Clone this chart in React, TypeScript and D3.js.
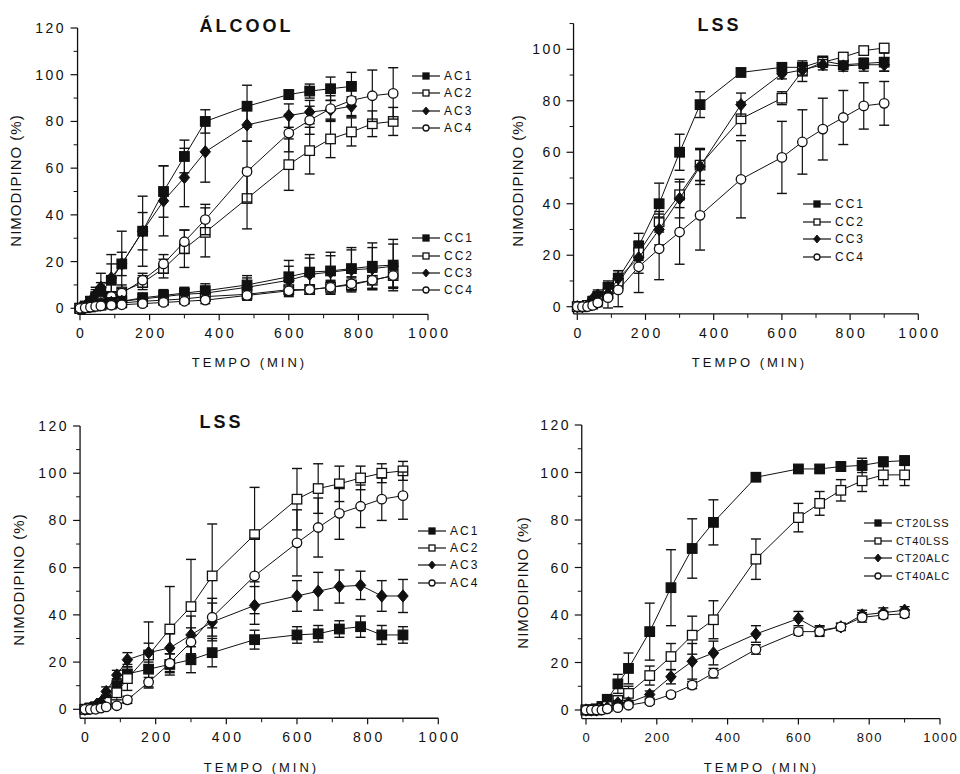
import React from 'react';
import * as d3 from 'd3';

// ---------- DATA ----------
const TIME = [0, 15, 30, 45, 60, 90, 120, 180, 240, 300, 360, 480, 600, 660, 720, 780, 840, 900];
const X_TICKS = [0, 200, 400, 600, 800, 1000];

// Panel 1 : ÁLCOOL
const ALC_AC1 = [0, 1, 3, 5, 7, 12, 19, 33, 50, 65, 80, 86.5, 91.5, 93, 94, 95, null, null];
const ALC_AC1_ERR = [0, 1, 2, 3, 4, 11, 14, 15, 11, 7, 5, 9, 2, 3, 5, 6, 0, 0];
const ALC_AC2 = [0, 0.5, 1, 2, 3, 5, 7, 11, 17, 25.5, 32.5, 47, 61.5, 67.5, 72.5, 75.5, 79, 80];
const ALC_AC2_ERR = [0, 0.5, 1, 1, 1.5, 2, 3, 3, 4, 8, 10.5, 13, 11, 10, 8, 6, 5.5, 6];
const ALC_AC3 = [0, 1, 3, 6, 9, 13, 19, 33, 46, 56, 67, 78.5, 82.5, 84, 85, 86.5, null, null];
const ALC_AC3_ERR = [0, 1, 2, 3, 6, 6, 5, 8, 15, 12.5, 13, 7, 5, 5, 4, 4, 0, 0];
const ALC_AC4 = [0, 0.5, 1, 2, 3, 5, 6.5, 12, 19, 28.5, 38, 58.5, 75, 80.5, 85.5, 89, 91, 92];
const ALC_AC4_ERR = [0, 0.5, 1, 1, 1.5, 2, 2, 3, 4, 5, 6.5, 13, 8, 6, 5.5, 7, 11, 11];
const ALC_CC1 = [0, 0.5, 1, 1.5, 2, 2.5, 3, 4.5, 5.5, 6.5, 7.5, 10, 13.5, 15.5, 16, 17, 18, 18.5];
const ALC_CC1_ERR = [0, 0.5, 1, 1, 1, 1.5, 1.5, 2, 2.5, 2.5, 3, 4, 7, 7.5, 8, 9, 10, 11];
const ALC_CC2 = [0, 0.3, 0.6, 1, 1.3, 1.8, 2.3, 3, 3.5, 4, 5, 6, 8, 8, 9, 10, 12, 14];
const ALC_CC2_ERR = [0, 0.3, 0.5, 0.5, 0.5, 1, 1, 1.5, 1.5, 1.5, 2, 2.5, 3, 2, 3, 3, 3.5, 5];
const ALC_CC3 = [0, 0.5, 1, 1.5, 2, 2.5, 3, 4, 5, 6, 6.5, 9, 12, 14.5, 15.5, 16.5, 17, 18];
const ALC_CC3_ERR = [0, 0.5, 1, 1, 1, 1, 1.5, 2, 2.5, 2.5, 3, 4, 6, 7, 7, 8.5, 9, 9.5];
const ALC_CC4 = [0, 0.2, 0.5, 0.8, 1, 1.3, 1.5, 2, 2.5, 3, 3.5, 5.5, 7.5, 8, 9, 10.5, 12, 14];
const ALC_CC4_ERR = [0, 0.2, 0.5, 0.5, 0.5, 0.5, 1, 1, 1, 1, 1.5, 2, 2, 2, 2.5, 3, 3.5, 5];

// Panel 2 : LSS (CC)
const LSS_CC1 = [0, 0, 0.5, 2, 4, 7.5, 11, 23.5, 40, 60, 78.5, 91, 93, 93, 95.5, 94, 94.5, 95];
const LSS_CC1_ERR = [0, 0.5, 0.5, 1, 1.5, 2.5, 3, 5, 8, 7, 5, 1, 1, 1.5, 1.5, 1.5, 2, 3.5];
const LSS_CC2 = [0, 0, 0.5, 1, 2.5, 5, 9, 21, 33, 43.5, 55, 73, 81, 91.5, 95, 97, 99.5, 100.5];
const LSS_CC2_ERR = [0, 0.3, 0.5, 0.5, 1, 1.5, 2, 3, 4, 5, 6, 6.5, 2.5, 4, 2, 1.5, 1, 1];
const LSS_CC3 = [0, 0, 0.5, 3, 4.5, 5, 11, 19, 30, 42, 54.5, 78.5, 90.5, 92, 94, 93.5, 94, 94];
const LSS_CC3_ERR = [0, 0.5, 0.5, 1, 2, 2, 3, 6, 6, 7.5, 7, 4.5, 2, 2, 2, 2, 2.5, 2.5];
const LSS_CC4 = [0, 0, 0, 0.5, 1.5, 3.5, 6.5, 15.5, 22.5, 29, 35.5, 49.5, 58, 64, 69, 73.5, 78, 79];
const LSS_CC4_ERR = [0, 0, 0.5, 1, 1.5, 4, 6.5, 10, 12, 12.5, 13.5, 15, 14, 12.5, 12, 10.5, 9, 8.5];

// Panel 3 : LSS (AC)
const LSS_AC1 = [0, 0.5, 1, 2, 4, 10, 15, 17, 19, 21, 24, 29.5, 31.5, 32, 34, 35, 31.5, 31.5];
const LSS_AC1_ERR = [0, 0.5, 1, 1, 2, 3, 4, 5, 4.5, 5.5, 6, 4, 3.5, 3.5, 3.5, 4.5, 4, 3.5];
const LSS_AC2 = [0, 0.5, 1, 1.5, 3, 7, 13, 23, 34, 43.5, 56.5, 74, 89, 93.5, 95.5, 98, 100, 101];
const LSS_AC2_ERR = [0, 0.5, 0.5, 1, 2, 3, 5, 14, 18, 20, 22, 20, 13, 10.5, 7.5, 5, 4, 4];
const LSS_AC3 = [0, 0.5, 1.5, 3, 7.5, 14.5, 21, 24, 26, 31.5, 37, 44, 48, 50, 52, 52.5, 48, 48];
const LSS_AC3_ERR = [0, 0.5, 1, 1.5, 2, 2, 3, 4, 6, 8, 8, 8, 6.5, 8, 7, 6, 6.5, 7];
const LSS_AC4 = [0, 0, 0, 0.5, 1, 1.5, 4, 11.5, 19.5, 28.5, 39, 56.5, 70.5, 77, 83, 86, 89, 90.5];
const LSS_AC4_ERR = [0, 0, 0.5, 0.5, 1, 1, 1.5, 2, 4, 6, 8, 16, 14, 12.5, 11, 9, 9, 10];

// Panel 4 : CT
const CT20LSS = [0, 0, 0.5, 1.5, 4.5, 11, 17.5, 33, 51.5, 68, 79, 98, 101.5, 101.5, 102.5, 103, 104.5, 105];
const CT20LSS_ERR = [0, 0.3, 0.5, 1, 1.5, 4, 6.5, 12, 16, 12.5, 9.5, 1.5, 1, 1.5, 2, 3, 2, 2];
const CT40LSS = [0, 0, 0, 0.5, 1.5, 4, 7, 14.5, 22.5, 31.5, 38, 63.5, 81, 87, 92.5, 96.5, 99, 99];
const CT40LSS_ERR = [0, 0, 0.3, 0.5, 1, 2, 3, 4, 5.5, 8, 8, 8.5, 6, 5, 4.5, 4.5, 4.5, 4.5];
const CT20ALC = [0, 0, 0, 0.5, 1, 3, 3, 6.5, 14, 20.5, 24, 32, 38.5, 33.5, 35, 40, 41, 42];
const CT20ALC_ERR = [0, 0, 0, 0.5, 0.5, 1, 1, 1.5, 3, 7.5, 5, 3.5, 3, 2, 1.5, 2, 2, 1.5];
const CT40ALC = [0, 0, 0, 0, 0.5, 1, 2, 3.5, 6.5, 10.5, 15.5, 25.5, 33, 33, 35, 39, 40, 40.5];
const CT40ALC_ERR = [0, 0, 0, 0, 0.3, 0.5, 1, 1, 1, 1.5, 2, 2, 1.5, 2, 1.5, 2, 1.5, 1.5];

const NAMES_AC = ['AC1', 'AC2', 'AC3', 'AC4'];
const NAMES_CC = ['CC1', 'CC2', 'CC3', 'CC4'];
const NAMES_CT = ['CT20LSS', 'CT40LSS', 'CT20ALC', 'CT40ALC'];

const Y_LABEL = 'NIMODIPINO (%)';
const X_LABEL = 'TEMPO (MIN)';

// ---------- LAYOUT ----------
const FONT = '"Liberation Sans", Arial, Helvetica, sans-serif';
const INK = '#111';

type Group = { names: string[]; values: (number | null)[][]; errs: number[][]; legend: { x0: number; ys: number[]; fs: number; ls: number } };
type Panel = {
  title?: string; titleX?: number; titleY?: number;
  xr: [number, number]; yr: [number, number]; yMaxDomain: number;
  xMin: number; yMin: number; yTop: number;
  yTickRight: number; xTickBaseline: number; xTickFs: number; xTickLs: number;
  yLab: [number, number]; xLab: [number, number];
  groups: Group[];
};

const PANELS: Panel[] = [
  {
    title: 'ÁLCOOL', titleX: 245, titleY: 32,
    xr: [80, 428], yr: [308.3, 28], yMaxDomain: 120, xMin: -7, yMin: -2.6, yTop: 120,
    yTickRight: 66, xTickBaseline: 338, xTickFs: 14, xTickLs: 3, yLab: [21, 181], xLab: [248, 367],
    groups: [
      { names: NAMES_AC, values: [ALC_AC1, ALC_AC2, ALC_AC3, ALC_AC4], errs: [ALC_AC1_ERR, ALC_AC2_ERR, ALC_AC3_ERR, ALC_AC4_ERR], legend: { x0: 412, ys: [76, 93, 111, 128], fs: 12, ls: 2 } },
      { names: NAMES_CC, values: [ALC_CC1, ALC_CC2, ALC_CC3, ALC_CC4], errs: [ALC_CC1_ERR, ALC_CC2_ERR, ALC_CC3_ERR, ALC_CC4_ERR], legend: { x0: 412, ys: [238, 256, 273, 290], fs: 12, ls: 2 } },
    ],
  },
  {
    title: 'LSS', titleX: 718, titleY: 31,
    xr: [577.3, 918.3], yr: [306.7, 49.3], yMaxDomain: 100, xMin: -11, yMin: -2.8, yTop: 110,
    yTickRight: 563, xTickBaseline: 338, xTickFs: 14, xTickLs: 3, yLab: [523, 181], xLab: [748, 367],
    groups: [
      { names: NAMES_CC, values: [LSS_CC1, LSS_CC2, LSS_CC3, LSS_CC4], errs: [LSS_CC1_ERR, LSS_CC2_ERR, LSS_CC3_ERR, LSS_CC4_ERR], legend: { x0: 803, ys: [204, 222, 239, 257], fs: 12, ls: 2 } },
    ],
  },
  {
    title: 'LSS', titleX: 220, titleY: 428,
    xr: [85, 438.3], yr: [709.3, 426], yMaxDomain: 120, xMin: -14, yMin: -3.8, yTop: 120,
    yTickRight: 69, xTickBaseline: 742, xTickFs: 14, xTickLs: 3, yLab: [24, 580], xLab: [260, 772],
    groups: [
      { names: NAMES_AC, values: [LSS_AC1, LSS_AC2, LSS_AC3, LSS_AC4], errs: [LSS_AC1_ERR, LSS_AC2_ERR, LSS_AC3_ERR, LSS_AC4_ERR], legend: { x0: 418, ys: [531, 548, 565, 583], fs: 12, ls: 2 } },
    ],
  },
  {
    xr: [586, 940], yr: [710, 425], yMaxDomain: 120, xMin: -12, yMin: -3.6, yTop: 120,
    yTickRight: 571, xTickBaseline: 742, xTickFs: 13, xTickLs: 1.5, yLab: [528, 583], xLab: [760, 772],
    groups: [
      { names: NAMES_CT, values: [CT20LSS, CT40LSS, CT20ALC, CT40ALC], errs: [CT20LSS_ERR, CT40LSS_ERR, CT20ALC_ERR, CT40ALC_ERR], legend: { x0: 864, ys: [523, 541, 558, 576], fs: 11, ls: 0.8 } },
    ],
  },
];

// ---------- MARKERS ----------
function Marker({ kind, x, y, s }: { kind: number; x: number; y: number; s: number }) {
  const filled = kind === 0 || kind === 2;
  const fill = filled ? INK : '#fff';
  if (kind === 0 || kind === 1) {
    return <rect x={x - s / 2} y={y - s / 2} width={s} height={s} fill={fill} stroke={INK} strokeWidth={1.3} />;
  }
  if (kind === 2) {
    const h = s * 0.65, w = s * 0.55;
    return <path d={`M${x},${y - h}L${x + w},${y}L${x},${y + h}L${x - w},${y}Z`} fill={fill} stroke={INK} strokeWidth={1} />;
  }
  return <circle cx={x} cy={y} r={s / 2} fill={fill} stroke={INK} strokeWidth={1.3} />;
}

function PanelView({ p }: { p: Panel }) {
  const x = d3.scaleLinear().domain([0, 1000]).range(p.xr);
  const y = d3.scaleLinear().domain([0, p.yMaxDomain]).range(p.yr);
  const axisY = y(p.yMin);
  const axisX = x(p.xMin);
  const yMajors = d3.range(0, p.yTop + 0.1, 20);
  const yMinors = d3.range(10, p.yTop + 0.1, 20);
  const xMinors = d3.range(100, 1000, 200);
  const line = d3.line<[number, number | null]>()
    .defined((d) => d[1] != null)
    .x((d) => x(d[0]))
    .y((d) => y(d[1] as number));

  return (
    <g>
      {p.title && (
        <text x={p.titleX} y={p.titleY} textAnchor="middle" fontFamily={FONT} fontWeight="bold" fontSize={18} letterSpacing={3} dx={1.5} fill={INK}>{p.title}</text>
      )}
      {/* axes */}
      <line x1={axisX} x2={x(1000)} y1={axisY} y2={axisY} stroke={INK} strokeWidth={1.3} />
      <line x1={axisX} x2={axisX} y1={axisY} y2={y(p.yTop)} stroke={INK} strokeWidth={1.3} />
      {yMajors.map((v) => (
        <g key={'ym' + v}>
          <line x1={axisX - 7} x2={axisX} y1={y(v)} y2={y(v)} stroke={INK} strokeWidth={1.2} />
          <text x={p.yTickRight} y={y(v)} dy="0.36em" textAnchor="end" fontFamily={FONT} fontSize={14} letterSpacing={2.5} fill={INK}>{v}</text>
        </g>
      ))}
      {yMinors.map((v) => (
        <line key={'yn' + v} x1={axisX - 4} x2={axisX} y1={y(v)} y2={y(v)} stroke={INK} strokeWidth={1} />
      ))}
      {X_TICKS.map((v) => (
        <g key={'xm' + v}>
          <line x1={x(v)} x2={x(v)} y1={axisY} y2={axisY + 6} stroke={INK} strokeWidth={1.2} />
          <text x={x(v)} y={p.xTickBaseline} dx={p.xTickLs / 2} textAnchor="middle" fontFamily={FONT} fontSize={p.xTickFs} letterSpacing={p.xTickLs} fill={INK}>{v}</text>
        </g>
      ))}
      {xMinors.map((v) => (
        <line key={'xn' + v} x1={x(v)} x2={x(v)} y1={axisY} y2={axisY + 4} stroke={INK} strokeWidth={1} />
      ))}
      <text transform={`translate(${p.yLab[0]},${p.yLab[1]}) rotate(-90)`} textAnchor="middle" dx={0.5} fontFamily={FONT} fontSize={15} letterSpacing={1} fill={INK}>{Y_LABEL}</text>
      <text x={p.xLab[0]} y={p.xLab[1]} textAnchor="middle" dx={1.5} fontFamily={FONT} fontSize={13} letterSpacing={3} fill={INK}>{X_LABEL}</text>

      {/* series */}
      {p.groups.map((g, gi) => (
        <g key={'g' + gi}>
          {g.values.map((vals, si) => {
            const pts: [number, number | null][] = TIME.map((t, i) => [t, vals[i]]);
            return (
              <g key={'s' + si}>
                <path d={line(pts) || ''} fill="none" stroke={INK} strokeWidth={1} />
                {pts.map(([t, v], i) => {
                  const e = g.errs[si][i];
                  if (v == null || !e) return null;
                  const cx = x(t);
                  return (
                    <g key={'e' + i}>
                      <line x1={cx} x2={cx} y1={y(v - e)} y2={y(v + e)} stroke={INK} strokeWidth={1.2} />
                      <line x1={cx - 5} x2={cx + 5} y1={y(v - e)} y2={y(v - e)} stroke={INK} strokeWidth={1.4} />
                      <line x1={cx - 5} x2={cx + 5} y1={y(v + e)} y2={y(v + e)} stroke={INK} strokeWidth={1.4} />
                    </g>
                  );
                })}
                {pts.map(([t, v], i) => (v == null ? null : <Marker key={'m' + i} kind={si} x={x(t)} y={y(v)} s={9.5} />))}
              </g>
            );
          })}
          {/* legend */}
          {g.names.map((nm, si) => {
            const ly = g.legend.ys[si];
            const x0 = g.legend.x0;
            return (
              <g key={'l' + si}>
                <line x1={x0} x2={x0 + 28} y1={ly} y2={ly} stroke={INK} strokeWidth={1.2} />
                <Marker kind={si} x={x0 + 14} y={ly} s={6} />
                <text x={x0 + 32} y={ly} dy="0.36em" fontFamily={FONT} fontSize={g.legend.fs} letterSpacing={g.legend.ls} fill={INK}>{nm}</text>
              </g>
            );
          })}
        </g>
      ))}
    </g>
  );
}

export default function App() {
  return (
    <svg width={960} height={774} style={{ position: 'absolute', left: 0, top: 0, background: '#fff' }}>
      <rect x={0} y={0} width={960} height={774} fill="#fff" />
      {PANELS.map((p, i) => (
        <PanelView key={i} p={p} />
      ))}
    </svg>
  );
}
